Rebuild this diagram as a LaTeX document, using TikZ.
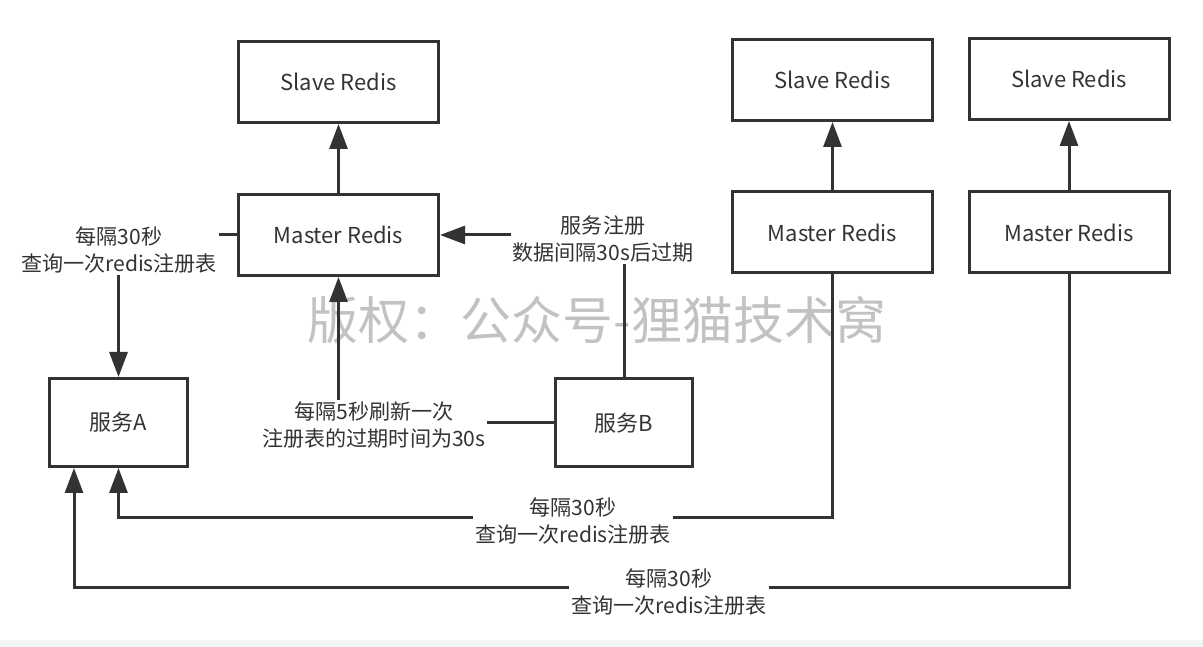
\documentclass[tikz,border=0pt]{standalone}
\usepackage{fontspec}
\setmainfont{Noto Sans CJK SC}
\usetikzlibrary{arrows.meta}
\definecolor{ink}{HTML}{333333}
\definecolor{mark}{HTML}{C2C2C2}
\definecolor{band}{HTML}{F3F4F6}
\tikzset{
  box/.style={draw=ink, line width=0.06cm, text=ink, minimum width=4cm, minimum height=1.62cm, font=\fontsize{12.5}{15}\selectfont},
  svc/.style={box, minimum width=2.74cm, minimum height=1.76cm},
  link/.style={draw=ink, line width=0.06cm, -{Triangle[length=0.5cm,width=0.36cm]}},
  note/.style={fill=white, text=ink, align=center, inner sep=1pt, font=\fontsize{12}{15.4}\selectfont}
}
\begin{document}
\begin{tikzpicture}
\useasboundingbox (0,0) rectangle (24.06,-12.94);
\fill[band] (0,-12.8) rectangle (24.06,-12.94);
\node[text=mark, font=\fontsize{29}{30}\selectfont] (mark) at (11.94,-6.4) {版权：公众号-狸猫技术窝};

\node[box] (slaveA) at (6.77,-1.64) {Slave Redis};
\node[box] (masterA) at (6.77,-4.70) {Master Redis};
\node[box] (slaveB) at (16.65,-1.60) {Slave Redis};
\node[box] (masterB) at (16.65,-4.65) {Master Redis};
\node[box] (slaveC) at (21.38,-1.58) {Slave Redis};
\node[box] (masterC) at (21.38,-4.65) {Master Redis};
\node[svc] (svcA) at (2.37,-8.45) {服务A};
\node[svc] (svcB) at (12.48,-8.46) {服务B};

\draw[link] (masterA) -- (slaveA);
\draw[link] (masterB) -- (slaveB);
\draw[link] (masterC) -- (slaveC);

\draw[link] (masterA.west) -- (masterA.west -| svcA.north) -- (svcA.north);
\draw[link] (svcB.west) -- (svcB.west -| masterA.south) -- (masterA.south);
\draw[link] (svcB.north) -- (svcB.north |- masterA.east) -- (masterA.east);

\coordinate (loopB) at (0,-10.36);
\coordinate (loopC) at (0,-11.76);
\coordinate (inA) at ([xshift=-0.89cm]svcA.south);
\draw[link] (masterB.south) -- (masterB.south |- loopB) -- (svcA.south |- loopB) -- (svcA.south);
\draw[link] (masterC.south) -- (masterC.south |- loopC) -- (inA |- loopC) -- (inA);

\node[note] (askA) at (2.38,-5.0) {每隔30秒\\查询一次redis注册表};
\node[note] (beat) at (7.48,-8.5) {每隔5秒刷新一次\\注册表的过期时间为30s};
\node[note] (reg) at (12.06,-4.78) {服务注册\\数据间隔30s后过期};
\node[note] (askB) at (11.46,-10.42) {每隔30秒\\查询一次redis注册表};
\node[note] (askC) at (13.38,-11.84) {每隔30秒\\查询一次redis注册表};
\end{tikzpicture}
\end{document}
